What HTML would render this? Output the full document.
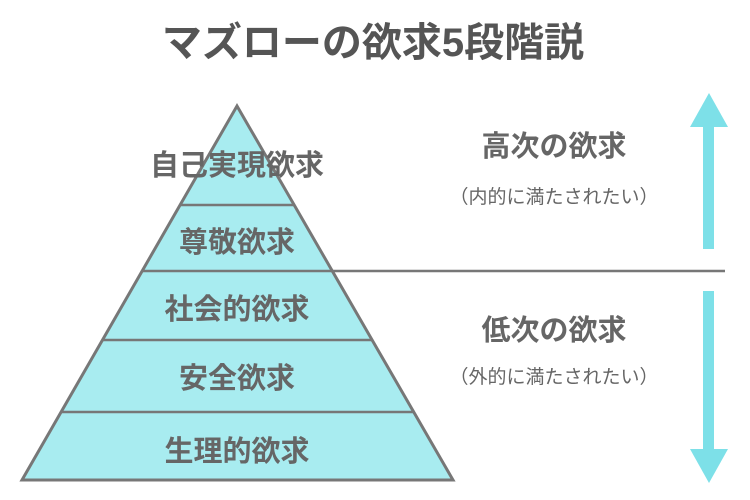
<!DOCTYPE html>
<html><head><meta charset="utf-8"><style>
html,body{margin:0;padding:0;background:#fff;}
svg{display:block;}
text{font-family:"Liberation Sans","Noto Sans CJK JP",sans-serif;}
</style></head><body>
<svg width="750" height="500" viewBox="0 0 750 500">
<text x="373" y="56" font-size="40" font-weight="bold" fill="#555" text-anchor="middle">マズローの欲求5段階説</text>
<polygon points="237,106 453,480 22,480" fill="#a8ecf0" stroke="#777" stroke-width="3" stroke-linejoin="miter"/>
<g stroke="#777" stroke-width="2.5">
<line x1="180" y1="205" x2="295" y2="205"/>
<line x1="142" y1="271" x2="725" y2="271"/>
<line x1="103" y1="340" x2="373" y2="340"/>
<line x1="62" y1="412" x2="414" y2="412"/>
</g>
<g font-size="29" font-weight="bold" fill="#666" text-anchor="middle">
<text x="237" y="175">自己実現欲求</text>
<text x="237" y="252">尊敬欲求</text>
<text x="237" y="319">社会的欲求</text>
<text x="237" y="388">安全欲求</text>
<text x="237" y="461">生理的欲求</text>
</g>
<g fill="#666" text-anchor="middle">
<text x="554" y="156" font-size="29" font-weight="bold">高次の欲求</text>
<text x="554" y="203" font-size="19">（内的に満たされたい）</text>
<text x="554" y="340" font-size="29" font-weight="bold">低次の欲求</text>
<text x="554" y="383" font-size="19">（外的に満たされたい）</text>
</g>
<g fill="#7de0e8">
<polygon points="709,93 728,127 690,127"/>
<rect x="703" y="126" width="11" height="123"/>
<rect x="703" y="291" width="11" height="160"/>
<polygon points="690,449 728,449 709,483"/>
</g>
</svg>
</body></html>
